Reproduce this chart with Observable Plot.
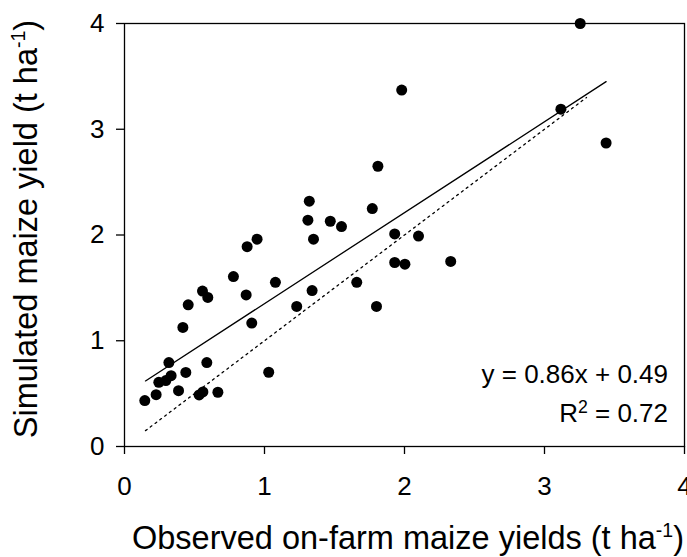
<!DOCTYPE html>
<html>
<head>
<meta charset="utf-8">
<script src="https://cdn.jsdelivr.net/npm/d3@7"></script>
<script src="https://cdn.jsdelivr.net/npm/@observablehq/plot@0.6"></script>
<style>
  html, body { margin: 0; padding: 0; background: #fff; }
  svg { display: block; }
</style>
</head>
<body>
<div id="chart"></div>
<script>
// Observed on-farm yields (x) and simulated yields (y), t/ha
const observed = [0.145,0.226,0.245,0.295,0.333,0.317,0.386,0.438,0.417,0.455,0.557,0.595,0.533,0.56,0.588,0.667,0.778,0.869,0.909,0.876,0.947,1.078,1.03,1.23,1.34,1.35,1.32,1.31,1.47,1.55,1.659,1.80,1.77,1.81,1.98,1.93,1.93,2.003,2.10,2.33,3.117,3.255,3.44];
const simulated = [0.434,0.49,0.607,0.623,0.67,0.794,0.528,0.70,1.126,1.34,1.47,1.41,0.488,0.516,0.794,0.513,1.607,1.433,1.167,1.89,1.96,1.553,0.702,1.325,1.474,1.96,2.32,2.14,2.13,2.08,1.553,1.325,2.25,2.65,3.37,2.01,1.74,1.724,1.99,1.75,3.19,4.00,2.87];

// Regression line endpoints (y = 0.86x + 0.49) and 1:1 line endpoints
const regX = [0.15, 3.44];
const regY = [0.62, 3.45];
const oneX = [0.15, 3.30];
const oneY = [0.15, 3.30];

const tickValues = [0, 1, 2, 3, 4];
const xTitle = ["Observed on-farm maize yields (t ha", "-1", ")"];
const yTitle = ["Simulated maize yield (t ha", "-1", ")"];
const eqLine = "y = 0.86x + 0.49";
const r2Parts = ["R", "2", " = 0.72"];

const points = observed.map((x, i) => ({x, y: simulated[i]}));
const reg = regX.map((x, i) => ({x, y: regY[i]}));
const one = oneX.map((x, i) => ({x, y: oneY[i]}));

const FONT = "'Liberation Sans', Arial, Helvetica, sans-serif";

const chart = Plot.plot({
  width: 687,
  height: 557,
  marginLeft: 124,
  marginRight: 3,
  marginTop: 23,
  marginBottom: 111,
  style: {fontFamily: FONT, fontSize: "26px", color: "black", background: "white"},
  x: {domain: [0, 4], label: null},
  y: {domain: [0, 4], label: null},
  marks: [
    Plot.line(one, {x: "x", y: "y", stroke: "black", strokeWidth: 1.3, strokeDasharray: "2,4"}),
    Plot.line(reg, {x: "x", y: "y", stroke: "black", strokeWidth: 1.3}),
    Plot.dot(points, {x: "x", y: "y", r: 5.5, fill: "black", stroke: "none"}),
    Plot.frame({stroke: "black", strokeWidth: 1.3}),
    Plot.axisX({ticks: tickValues, tickSize: 8, tickPadding: 22, tickFormat: d3.format("d"), fontSize: 26, strokeWidth: 1.3, label: null}),
    Plot.axisY({ticks: tickValues, tickSize: 8, tickPadding: 12, tickFormat: d3.format("d"), fontSize: 26, strokeWidth: 1.3, label: null})
  ]
});

const svg = d3.select(chart);

function addSupText(parent, parts, attrs, size, supScale, raise) {
  const t = parent.append("text");
  Object.entries(attrs).forEach(([k, v]) => t.attr(k, v));
  t.attr("font-size", size);
  t.append("tspan").text(parts[0]);
  t.append("tspan").attr("font-size", size * supScale).attr("dy", -raise).text(parts[1]);
  t.append("tspan").attr("font-size", size).attr("dy", raise).text(parts[2]);
  return t;
}

// x axis title
addSupText(svg, xTitle, {x: 408, y: 549, "text-anchor": "middle", "font-family": FONT, fill: "black"}, 32.5, 0.6, 12);
// y axis title
addSupText(svg, yTitle, {transform: "translate(37,229) rotate(-90)", "text-anchor": "middle", "font-family": FONT, fill: "black"}, 32.5, 0.6, 12);

// Equation
svg.append("text").attr("x", 668).attr("y", 383).attr("text-anchor", "end")
  .attr("font-size", 26).attr("font-family", FONT).attr("fill", "black").text(eqLine);
addSupText(svg, r2Parts, {x: 668, y: 421.5, "text-anchor": "end", "font-family": FONT, fill: "black"}, 26, 0.68, 9);

document.getElementById("chart").appendChild(chart);
</script>
</body>
</html>
